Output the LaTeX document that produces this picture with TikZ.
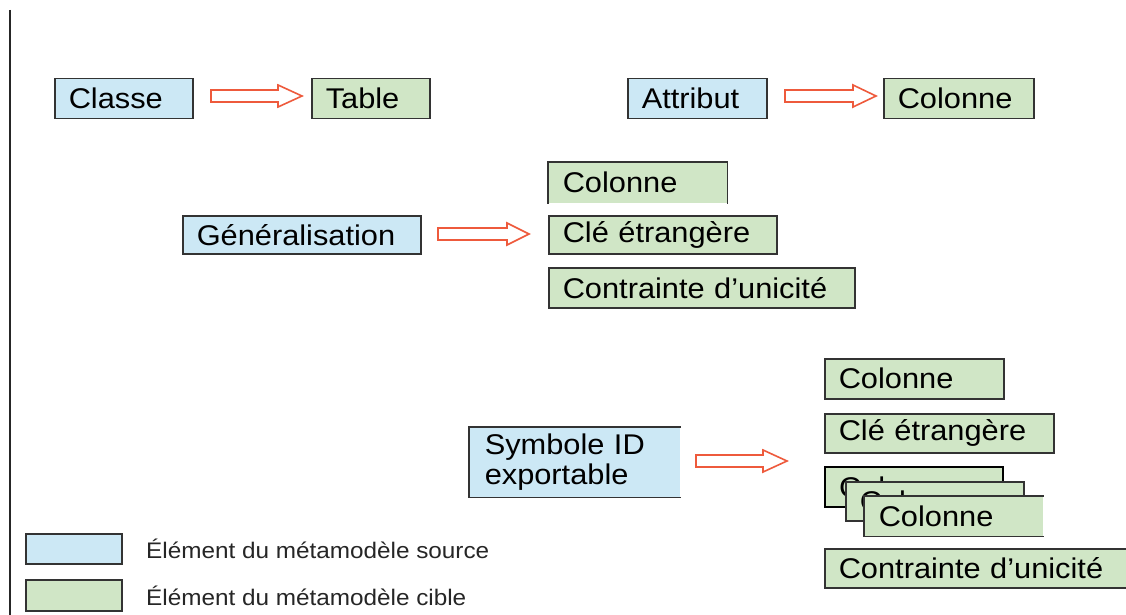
\documentclass[tikz,border=0pt]{standalone}
\usepackage{fontspec}
\setmainfont{Liberation Sans}[FakeStretch=1.08]
\definecolor{srcblue}{HTML}{CCE8F5}
\definecolor{tgtgreen}{HTML}{D0E6C6}
\definecolor{bordercol}{HTML}{333333}
\definecolor{arrowred}{HTML}{EE5A3C}
\newcommand\blockarrow[4]{%
  \draw[arr] (#1,#4-6) -- (#2,#4-6) -- (#2,#4-11) -- (#3,#4) -- (#2,#4+11) -- (#2,#4+6) -- (#1,#4+6) -- cycle;}
\begin{document}
\begin{tikzpicture}[x=1pt,y=-1pt,
  box/.style={anchor=north west, inner sep=0pt, inner xsep=14pt, align=left,
    font=\fontsize{28.5}{30}\selectfont, line width=1.5pt, draw=bordercol},
  src/.style={box, fill=srcblue},
  tgt/.style={box, fill=tgtgreen},
  bw/.style={text width={(#1-28)*1pt}},
  bh/.style={minimum height=#1pt},
  bord/.style={line width=1.5pt, draw=bordercol},
  arr/.style={draw=arrowred, fill=white, line width=1.6pt, line join=miter},
  legtext/.style={anchor=west, inner sep=0pt, font=\fontsize{22.5}{24}\selectfont, text=black!85}]
\useasboundingbox (0,0) rectangle (1126,615);
\clip (0,0) rectangle (1126,615);
\fill[white] (0,0) rectangle (1126,615);

% left rule
\draw[line width=2pt, black!85] (10,10) -- (10,615);

% row 1
\node[src, bw=138, bh=40] (cls) at (54,78) {Classe};
\node[tgt, bw=118, bh=40] (tab) at (311,78) {Table};
\node[src, bw=139, bh=40] (att) at (627,78) {Attribut};
\node[tgt, bw=150, bh=40] (col) at (883,78) {Colonne};
\blockarrow{211}{278}{302}{96}
\blockarrow{785}{853}{876}{96}

% row 2
\node[src, bw=238, bh=38] (gen) at (182,215) {Généralisation};
\node[tgt, draw=none, bw=178, bh=40] (gcol) at (548,162) {Colonne};
\draw[bord] (gcol.south west) -- (gcol.north west) -- (gcol.north east) -- (gcol.south east);
\node[tgt, bw=228, bh=38] (gcle) at (548,215) {Clé étrangère};
\node[tgt, bw=306, bh=40] (gcon) at (548,267) {Contrainte d’unicité};
\blockarrow{438}{507}{529}{234}

% row 3
\node[src, draw=none, inner xsep=15pt, bw=208, bh=69] (sym) at (469,427) {Symbole ID\\exportable};
\draw[bord] (sym.north east) -- (sym.north west) -- (sym.south west) -- (sym.south east);
\blockarrow{696}{763}{787}{461}
\node[tgt, bw=179, bh=40] (scol) at (824,358) {Colonne};
\node[tgt, bw=229, bh=39] (scle) at (824,413) {Clé étrangère};
\node[tgt, bw=178, bh=40, line width=2pt, draw=black] (st1) at (824,466) {Colonne};
\node[tgt, bw=178, bh=39] (st2) at (845,481) {Colonne};
\node[tgt, draw=none, bw=178, bh=39] (st3) at (864,496) {Colonne};
\draw[bord] (st3.north east) -- (st3.north west) -- (st3.south west) -- (st3.south east);
\node[tgt, bw=306, bh=39] (scon) at (824,548) {Contrainte d’unicité};

% legend
\node[src, bw=96, bh=30, text width=0pt, inner xsep=48pt] (lsrc) at (25,533) {};
\node[tgt, bw=96, bh=31, text width=0pt, inner xsep=48pt] (ltgt) at (25,579) {};
\node[legtext] (lsrct) at (146,549) {Élément du métamodèle source};
\node[legtext] (ltgtt) at (146,596) {Élément du métamodèle cible};
\end{tikzpicture}
\end{document}
